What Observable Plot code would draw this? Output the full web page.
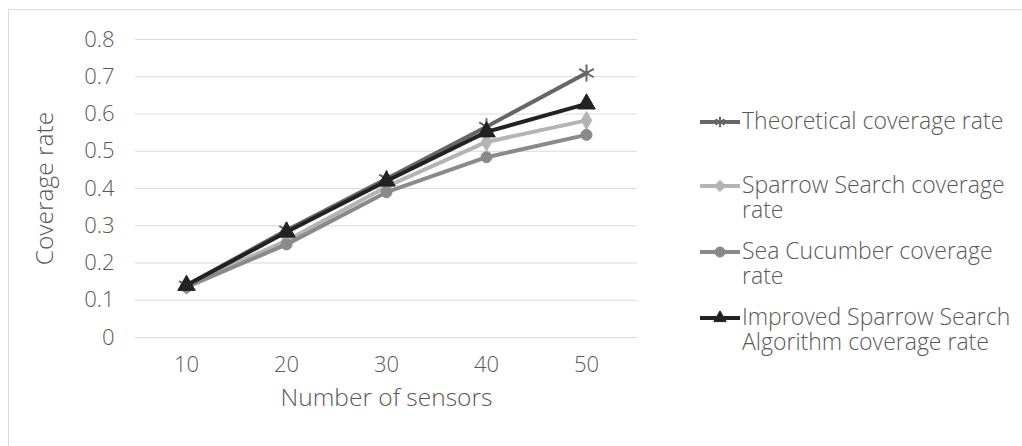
<!DOCTYPE html>
<html><head><meta charset="utf-8">
<script src="https://cdn.jsdelivr.net/npm/d3@7"></script>
<script src="https://cdn.jsdelivr.net/npm/@observablehq/plot@0.6"></script>
<style>
body{margin:0;background:#fff;overflow:hidden;}
#wrap{position:relative;width:1022px;height:446px;overflow:hidden;font-family:"Open Sans","Noto Sans",sans-serif;font-weight:300;}
#frame{position:absolute;left:8px;top:9px;width:1100px;height:500px;border:1px solid #d9d9d9;}
#chart{position:absolute;left:0;top:0;}
#legend{position:absolute;left:700px;top:0;}
.item{position:absolute;left:0;display:flex;align-items:flex-start;}
.item svg{flex:none;}
.lab{font-size:23px;color:#595959;white-space:nowrap;margin-left:2px;font-weight:300;}
.lab span{display:block;height:25px;line-height:25px;}
</style></head>
<body><div id="wrap"><div id="frame"></div><div id="chart"></div><div id="legend"></div></div>
<script>
const sensors = [10, 20, 30, 40, 50];
const theoretical = [0.14, 0.288, 0.426, 0.566, 0.71];
const sparrow = [0.14, 0.26, 0.405, 0.525, 0.583];
const seaCucumber = [0.135, 0.25, 0.39, 0.484, 0.544];
const improved = [0.14, 0.283, 0.42, 0.552, 0.627];
const seriesNames = ["Theoretical coverage rate", "Sparrow Search coverage rate", "Sea Cucumber coverage rate", "Improved Sparrow Search Algorithm coverage rate"];
const legendLines = [["Theoretical coverage rate"], ["Sparrow Search coverage", "rate"], ["Sea Cucumber coverage", "rate"], ["Improved Sparrow Search", "Algorithm coverage rate"]];
const yTicks = [0, 0.1, 0.2, 0.3, 0.4, 0.5, 0.6, 0.7, 0.8];
const xTitle = "Number of sensors";
const yTitle = "Coverage rate";

const colors = ["#666666", "#b4b4b4", "#8a8a8a", "#222222"];
const symbols = ["asterisk", "diamond", "circle", "triangle"];
const seriesValues = [theoretical, sparrow, seaCucumber, improved];

const data = [];
seriesValues.forEach((vals, i) => vals.forEach((v, j) => data.push({x: sensors[j], y: v, s: seriesNames[i]})));

const font = "'Open Sans', 'Noto Sans', sans-serif";
const marks = [
  Plot.ruleY(yTicks, {stroke: "#d9d9d9", strokeWidth: 1}),
  Plot.axisY({ticks: yTicks, tickSize: 0, tickPadding: 21, tickFormat: d => String(+d.toFixed(1)), label: null, fontSize: 22}),
  Plot.axisX({tickSize: 0, tickPadding: 19, label: null, fontSize: 22}),
  Plot.text([yTitle], {frameAnchor: "left", textAnchor: "middle", dx: -90, rotate: -90, fontSize: 24.5, fill: "#595959"}),
  Plot.text([xTitle], {frameAnchor: "bottom", textAnchor: "middle", dy: 68, fontSize: 24.5, fill: "#595959"})
];
seriesNames.forEach((name, i) => {
  const d = data.filter(r => r.s === name);
  marks.push(Plot.line(d, {x: "x", y: "y", stroke: colors[i], strokeWidth: 4, strokeLinejoin: "round"}));
  if (symbols[i] === "asterisk") {
    marks.push(Plot.dot(d, {x: "x", y: "y", symbol: "asterisk", r: 8, stroke: colors[i], strokeWidth: 2}));
  } else {
    marks.push(Plot.dot(d, {x: "x", y: "y", symbol: symbols[i], r: symbols[i] === "triangle" ? 6.5 : 5.5, fill: colors[i], stroke: colors[i], strokeWidth: 1}));
  }
});

const chart = Plot.plot({
  width: 1022, height: 446,
  marginLeft: 135, marginRight: 385, marginTop: 39, marginBottom: 109,
  x: {type: "point", domain: sensors, padding: 0.5},
  y: {domain: [0, 0.8]},
  style: {fontFamily: font, color: "#595959", background: "transparent", fontSize: "22px", fontWeight: 300},
  marks
});
document.getElementById("chart").appendChild(chart);

// legend
const legendTops = [108, 172, 238, 304];
const leg = d3.select("#legend");
seriesNames.forEach((name, i) => {
  const item = leg.append("div").attr("class", "item").style("top", legendTops[i] + "px");
  const svg = item.append("svg").attr("width", 40).attr("height", 25);
  svg.append("line").attr("x1", 0).attr("x2", 40).attr("y1", 14).attr("y2", 14).attr("stroke", colors[i]).attr("stroke-width", 4);
  const sym = d3.symbol().type({asterisk: d3.symbolAsterisk, diamond: d3.symbolDiamond2, circle: d3.symbolCircle, triangle: d3.symbolTriangle2}[symbols[i]]).size(symbols[i] === "triangle" ? 110 : 80);
  svg.append("path").attr("d", sym()).attr("transform", "translate(20,14)")
    .attr("fill", symbols[i] === "asterisk" ? "none" : colors[i]).attr("stroke", colors[i]).attr("stroke-width", symbols[i] === "asterisk" ? 2 : 1);
  const lab = item.append("div").attr("class", "lab");
  legendLines[i].forEach(t => lab.append("span").text(t));
});
</script></body></html>
